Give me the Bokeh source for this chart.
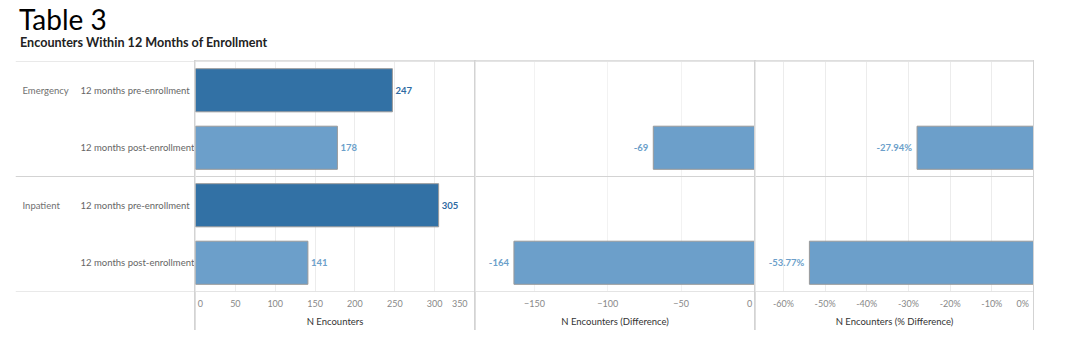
from bokeh.plotting import figure
from bokeh.models import (Range1d, FactorRange, Span, FixedTicker, NumeralTickFormatter,
                          Div, Spacer, ColumnDataSource)
from bokeh.layouts import row, column
from bokeh.core.properties import value
from bokeh.embed import file_html
from bokeh.resources import INLINE

# ---------------- data ----------------
title = "Table 3"
subtitle = "Encounters Within 12 Months of Enrollment"
groups = ["Emergency", "Inpatient"]
periods = ["12 months pre-enrollment", "12 months post-enrollment"]
emergency_n = [247, 178]
inpatient_n = [305, 141]
diff_n = [-69, -164]            # post - pre (Emergency, Inpatient)
pct_diff = [-0.2794, -0.5377]   # (post - pre) / pre
n_ticks = [0, 50, 100, 150, 200, 250, 300, 350]
diff_ticks = [-150, -100, -50, 0]
pct_ticks = [-0.6, -0.5, -0.4, -0.3, -0.2, -0.1, 0]
axis_titles = ["N Encounters", "N Encounters (Difference)", "N Encounters (% Difference)"]

# ---------------- style ----------------
FONT = "Lato"
DARK = "#3271a5"
LIGHT = "#6c9fca"
DARK_LAB = "#2d6aa2"
LIGHT_LAB = "#6c9fca"
BAR_LINE = "#9a9a9a"
SEP = "#d3d3d3"
GRID = "#ececec"
H = 270
NBSP = "\u00a0"

rows = [(g, p) for g in groups for p in periods]
post_rows = [(g, periods[1]) for g in groups]
y_range = FactorRange(factors=list(reversed(rows)), range_padding=0,
                      group_padding=0, factor_padding=0)


def add_separators(p):
    for loc in (0, 2, 4):
        p.add_layout(Span(location=loc, dimension="width", line_color=SEP, line_width=1))


def panel(x_range, width, ticks, grid_color, label, overrides, fmt=None):
    p = figure(width=width, height=H, x_range=x_range, y_range=y_range,
               output_backend="svg", toolbar_location=None, y_axis_location=None,
               min_border_left=0, min_border_right=0, min_border_top=1, min_border_bottom=39)
    p.outline_line_color = None
    p.background_fill_color = "white"
    p.border_fill_color = "white"
    p.ygrid.visible = False
    p.xgrid.ticker = FixedTicker(ticks=ticks)
    p.xgrid.grid_line_color = grid_color
    ax = p.xaxis[0]
    ax.ticker = FixedTicker(ticks=ticks)
    if fmt is not None:
        ax.formatter = fmt
    ax.major_label_overrides = overrides
    ax.axis_line_color = None
    ax.major_tick_line_color = None
    ax.minor_tick_line_color = None
    ax.major_tick_out = 0
    ax.major_tick_in = 0
    ax.minor_tick_out = 0
    ax.minor_tick_in = 0
    ax.major_label_text_font = FONT
    ax.major_label_text_font_size = "9px"
    ax.major_label_text_color = "#888888"
    ax.major_label_standoff = 6
    ax.axis_label = label
    ax.axis_label_text_font = FONT
    ax.axis_label_text_font_size = "9.5px"
    ax.axis_label_text_font_style = "normal"
    ax.axis_label_text_color = "#333333"
    ax.axis_label_standoff = 4
    add_separators(p)
    return p


# ---------------- left label column ----------------
left = figure(width=186, height=H, x_range=Range1d(0, 1), y_range=y_range,
              output_backend="svg", toolbar_location=None,
              x_axis_location=None, y_axis_location=None,
              min_border_left=7, min_border_right=0, min_border_top=1, min_border_bottom=39)
left.outline_line_color = None
left.grid.visible = False
add_separators(left)
gsrc = ColumnDataSource(dict(x=[0] * len(groups), y=[(g, periods[0]) for g in groups], t=groups))
left.text(x="x", y="y", text="t", source=gsrc, x_offset=7, text_align="left",
          text_baseline="middle", text_font=value(FONT), text_font_size="9.5px",
          text_color="#707070")
ssrc = ColumnDataSource(dict(x=[0] * len(rows), y=rows, t=[r[1] for r in rows]))
left.text(x="x", y="y", text="t", source=ssrc, x_offset=65, text_align="left",
          text_baseline="middle", text_font=value(FONT), text_font_size="9.5px",
          text_color="#666666")

# ---------------- panel 1: N encounters ----------------
n_values = emergency_n + inpatient_n
is_pre = [r[1] == periods[0] for r in rows]
src1 = ColumnDataSource(dict(
    y=rows, v=n_values,
    color=[DARK if pre else LIGHT for pre in is_pre],
    lcolor=[DARK_LAB if pre else LIGHT_LAB for pre in is_pre],
    lab=[str(v) for v in n_values]))
p1 = panel(Range1d(0, 350), 279, n_ticks, GRID, axis_titles[0],
           {0: NBSP + "0", 350: "350" + NBSP * 3})
p1.hbar(y="y", left=0, right="v", height=0.75, fill_color="color",
        line_color=BAR_LINE, line_width=1, source=src1)
p1.text(x="v", y="y", text="lab", source=src1, x_offset=3, text_align="left",
        text_baseline="middle", text_color="lcolor", text_font=value(FONT),
        text_font_size="9.5px", text_font_style="bold")

# ---------------- panel 2: difference ----------------
src2 = ColumnDataSource(dict(y=post_rows, v=diff_n, lab=[str(v) for v in diff_n]))
p2 = panel(Range1d(-190.2, 0), 279, diff_ticks, "#f2f2f2", axis_titles[1],
           {0: "0" + NBSP})
p2.hbar(y="y", left="v", right=0, height=0.75, fill_color=LIGHT,
        line_color=BAR_LINE, line_width=1, source=src2)
p2.text(x="v", y="y", text="lab", source=src2, x_offset=-5, text_align="right",
        text_baseline="middle", text_color=LIGHT_LAB, text_font=value(FONT),
        text_font_size="9.5px", text_font_style="bold")

# ---------------- panel 3: % difference ----------------
src3 = ColumnDataSource(dict(y=post_rows, v=pct_diff,
                             lab=[f"{v * 100:.2f}%" for v in pct_diff]))
p3 = panel(Range1d(-0.667, 0), 278, pct_ticks, GRID, axis_titles[2],
           {0: "0%" + NBSP * 2}, fmt=NumeralTickFormatter(format="0%"))
p3.hbar(y="y", left="v", right=0, height=0.75, fill_color=LIGHT,
        line_color=BAR_LINE, line_width=1, source=src3)
p3.text(x="v", y="y", text="lab", source=src3, x_offset=-5, text_align="right",
        text_baseline="middle", text_color=LIGHT_LAB, text_font=value(FONT),
        text_font_size="9.5px", text_font_style="bold")

# ---------------- title ----------------
head = Div(text=(
    '<div style="position:relative;width:1026px;height:52px;">'
    f'<div style="position:absolute;left:11px;top:-3px;font-family:Lato;font-size:28px;'
    f'line-height:28px;color:#000;white-space:nowrap;">{title}</div>'
    f'<div style="position:absolute;left:12px;top:29px;font-family:Lato;font-size:12.6px;'
    f'font-weight:bold;line-height:12px;color:#222;white-space:nowrap;">{subtitle}</div>'
    '</div>'), width=1026, height=52, margin=0)

panels = row(Spacer(width=0, height=H), p1, p2, p3, Spacer(width=0, height=H), spacing=1,
             styles={"background-color": SEP})
body = row(left, panels, spacing=0)
layout = column(head, body, spacing=0, margin=(8, 0, 0, 8))

open("out.html", "w").write(file_html(layout, INLINE))
